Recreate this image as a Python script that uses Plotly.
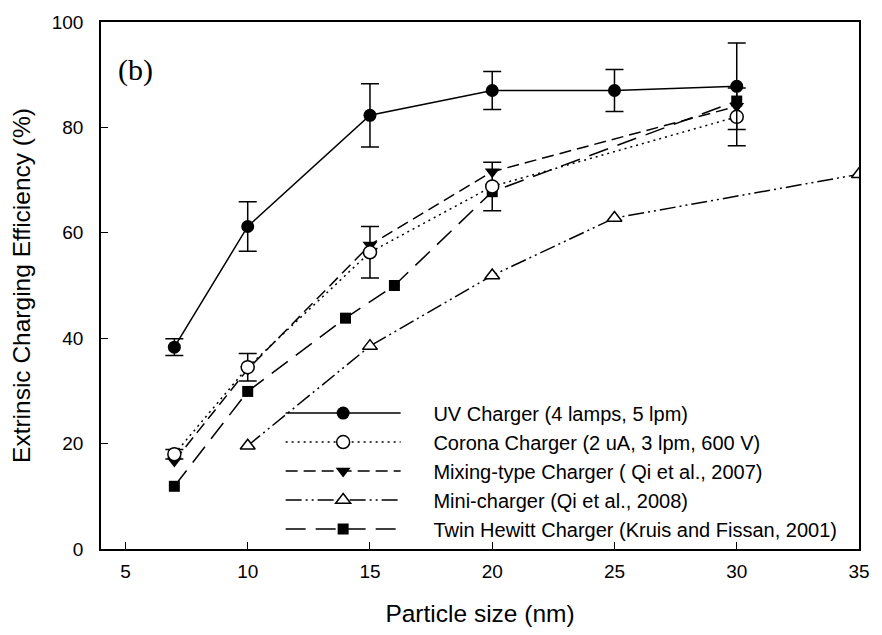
import plotly.graph_objects as go

# ---- data ----
uv_x = [7, 10, 15, 20, 25, 30]
uv_y = [38.3, 61.2, 82.3, 87.0, 87.0, 87.8]
uv_err = [1.6, 4.7, 6.0, 3.6, 4.0, 8.2]

corona_x = [7, 10, 15, 20, 30]
corona_y = [18.0, 34.5, 56.3, 68.8, 82.0]
corona_err = [0.9, 2.6, 4.9, 4.6, 5.5]

mixing_x = [7, 10, 15, 20, 30]
mixing_y = [16.7, 34.1, 57.7, 71.6, 84.0]

mini_x = [10, 15, 20, 25, 35]
mini_y = [19.6, 38.5, 51.9, 62.8, 71.1]

twin_x = [7, 10, 14, 16, 20, 30]
twin_y = [11.9, 29.9, 43.8, 50.0, 67.8, 85.0]

names = [
    "UV Charger (4 lamps, 5 lpm)",
    "Corona Charger (2 uA, 3 lpm, 600 V)",
    "Mixing-type Charger ( Qi et al., 2007)",
    "Mini-charger (Qi et al., 2008)",
    "Twin Hewitt Charger (Kruis and Fissan, 2001)",
]

x_ticks = [5, 10, 15, 20, 25, 30, 35]
y_ticks = [0, 20, 40, 60, 80, 100]

FONT = "Arial, Liberation Sans, sans-serif"
LW = 1.5
PAD = "\u00a0" * 5  # gap between legend key and legend text

fig = go.Figure()

err_style = dict(type="data", thickness=LW, width=9, color="black")

fig.add_trace(go.Scatter(
    x=twin_x, y=twin_y, name=PAD + names[4], mode="lines+markers",
    line=dict(color="black", width=LW, dash="20px,10px"),
    marker=dict(symbol="square", size=11, color="black"),
))
fig.add_trace(go.Scatter(
    x=mini_x, y=mini_y, name=PAD + names[3], mode="lines+markers",
    line=dict(color="black", width=LW, dash="16px,4px,2px,4px,2px,4px"),
    marker=dict(symbol="triangle-up", size=13, color="white",
                line=dict(color="black", width=LW)),
))
fig.add_trace(go.Scatter(
    x=mixing_x, y=mixing_y, name=PAD + names[2], mode="lines+markers",
    line=dict(color="black", width=LW, dash="12px,6px"),
    marker=dict(symbol="triangle-down", size=13, color="black"),
))
fig.add_trace(go.Scatter(
    x=corona_x, y=corona_y, name=PAD + names[1], mode="lines+markers",
    line=dict(color="black", width=LW, dash="2px,4px"),
    marker=dict(symbol="circle", size=13, color="white",
                line=dict(color="black", width=LW)),
    error_y=dict(array=corona_err, **err_style),
))
fig.add_trace(go.Scatter(
    x=uv_x, y=uv_y, name=PAD + names[0], mode="lines+markers",
    line=dict(color="black", width=LW),
    marker=dict(symbol="circle", size=13, color="black"),
    error_y=dict(array=uv_err, **err_style),
))

axis_common = dict(
    showline=True, linecolor="black", linewidth=1.5, mirror=True,
    ticks="inside", ticklen=7, tickwidth=1, tickcolor="black",
    showgrid=False, zeroline=False,
    tickfont=dict(family=FONT, size=19, color="black"),
)

fig.update_layout(
    width=882, height=635,
    margin=dict(l=101, r=13, t=12, b=86),
    paper_bgcolor="white", plot_bgcolor="white",
    xaxis=dict(range=[4, 35], tickvals=x_ticks,
               title=dict(text="Particle size (nm)", standoff=24,
                          font=dict(family=FONT, size=24.5, color="black")),
               ticklabelstandoff=4, **axis_common),
    yaxis=dict(range=[0, 100], tickvals=y_ticks,
               title=dict(text="Extrinsic Charging Efficiency (%)", standoff=14,
                          font=dict(family=FONT, size=24.5, color="black")),
               ticklabelstandoff=12, **axis_common),
    legend=dict(x=0.237, y=0.295, xanchor="left", yanchor="top",
                traceorder="reversed", bgcolor="rgba(0,0,0,0)",
                font=dict(family=FONT, size=20, color="black"),
                itemwidth=115, tracegroupgap=0),
    showlegend=True,
    annotations=[dict(text="(b)", xref="paper", yref="paper", x=0.02, y=0.908,
                      xanchor="left", yanchor="middle", showarrow=False,
                      font=dict(family="Liberation Serif, Times New Roman, serif",
                                size=30, color="black"))],
)

fig.write_html("out.html",
               config={"displayModeBar": False},
               post_script="document.body.style.margin='0';document.body.style.padding='0';")
